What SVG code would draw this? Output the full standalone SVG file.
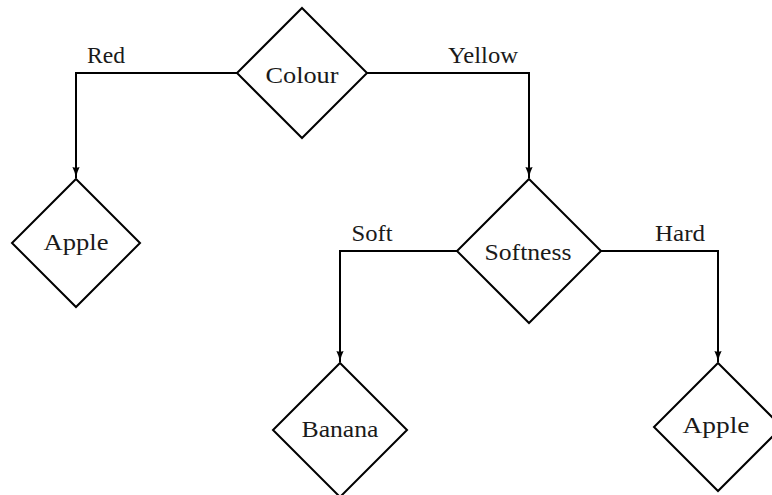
<svg xmlns="http://www.w3.org/2000/svg" width="772" height="495" viewBox="0 0 772 495">
  <defs>
    <style>
      .node { fill: #ffffff; stroke: #000000; stroke-width: 2; stroke-linejoin: miter; }
      .edge { fill: none; stroke: #000000; stroke-width: 2; }
      text { font-family: "Liberation Serif", "DejaVu Serif", serif; font-size: 24px; fill: #1a1a1a; text-anchor: middle; }
    </style>
    <marker id="arrow" markerUnits="userSpaceOnUse" markerWidth="12" markerHeight="10" refX="11" refY="4" orient="auto">
      <path d="M0,0.4 Q5,3 11,4 Q5,5 0,7.6 Q1.5,4 0,0.4 Z" fill="#000000"/>
    </marker>
  </defs>

  <g id="connectors">
    <polyline class="edge" points="237,73 76,73 76,178" marker-end="url(#arrow)"/>
    <polyline class="edge" points="367,73 529,73 529,178" marker-end="url(#arrow)"/>
    <polyline class="edge" points="457,251 340,251 340,362" marker-end="url(#arrow)"/>
    <polyline class="edge" points="601,251 718,251 718,362" marker-end="url(#arrow)"/>
    <text x="106" y="63" textLength="38" lengthAdjust="spacingAndGlyphs">Red</text>
    <text x="483" y="63" textLength="70" lengthAdjust="spacingAndGlyphs">Yellow</text>
    <text x="372" y="241" textLength="41" lengthAdjust="spacingAndGlyphs">Soft</text>
    <text x="680" y="241" textLength="50" lengthAdjust="spacingAndGlyphs">Hard</text>
  </g>

  <g id="colour">
    <polygon class="node" points="302,8 367,73 302,138 237,73"/>
    <text x="302" y="83" textLength="73" lengthAdjust="spacingAndGlyphs">Colour</text>
  </g>

  <g id="apple-red">
    <polygon class="node" points="76,179 140,243 76,307 12,243"/>
    <text x="76" y="250" textLength="65" lengthAdjust="spacingAndGlyphs">Apple</text>
  </g>

  <g id="softness">
    <polygon class="node" points="529,179 601,251 529,323 457,251"/>
    <text x="528" y="260" textLength="87" lengthAdjust="spacingAndGlyphs">Softness</text>
  </g>

  <g id="banana">
    <polygon class="node" points="340,363 407,430 340,497 273,430"/>
    <text x="340" y="437" textLength="77" lengthAdjust="spacingAndGlyphs">Banana</text>
  </g>

  <g id="apple-hard">
    <polygon class="node" points="718,363 782,427 718,491 654,427"/>
    <text x="716" y="433" textLength="67" lengthAdjust="spacingAndGlyphs">Apple</text>
  </g>
</svg>
